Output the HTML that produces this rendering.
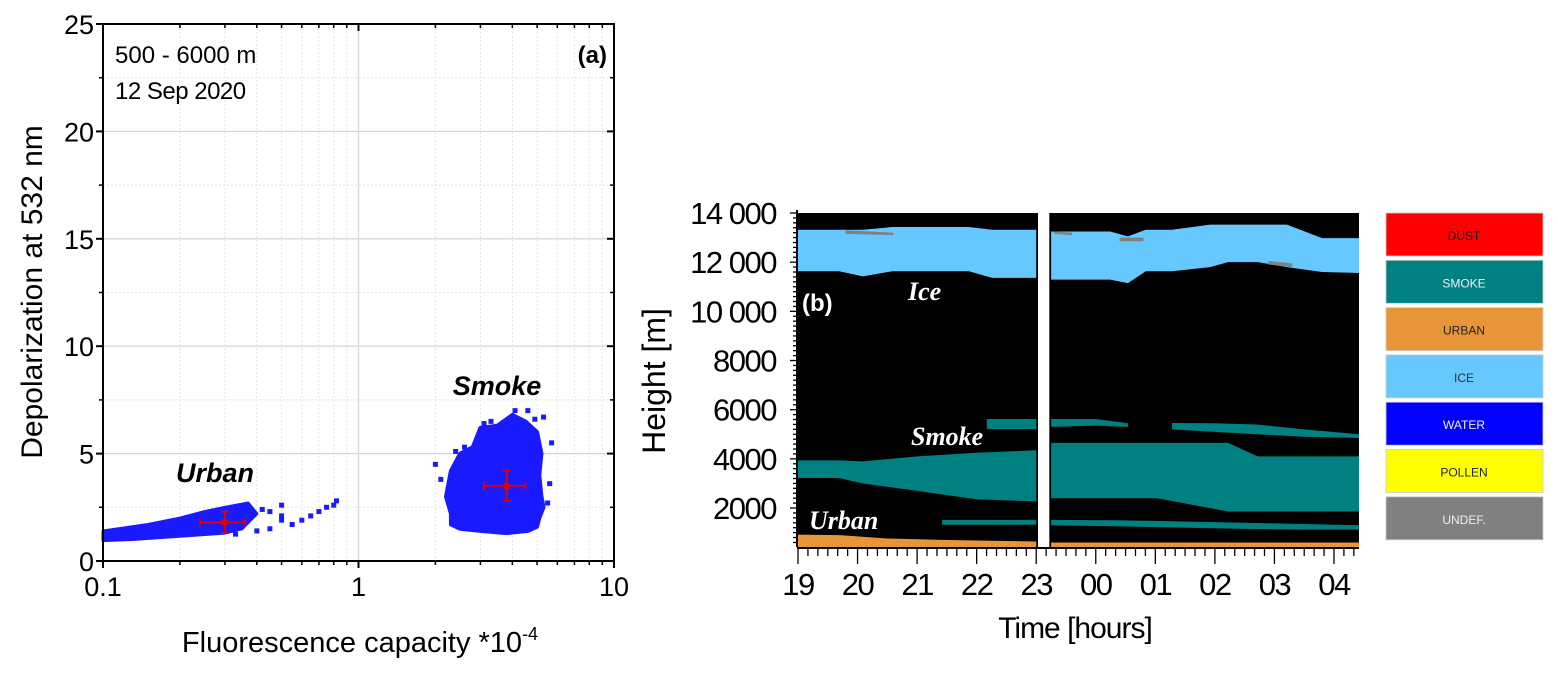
<!DOCTYPE html>
<html><head><meta charset="utf-8"><style>
html,body{margin:0;padding:0;background:#fff;}
svg{display:block;font-family:"Liberation Sans",Arial,sans-serif;}
</style></head><body>
<svg id="root" width="1558" height="673" viewBox="0 0 1558 673" xmlns="http://www.w3.org/2000/svg">
<g id="left"></g>
<g id="right"></g>
<g id="legend"></g>
</svg>
<script>
// ---------- Panel (a) data ----------
const xTicksA = [0.1, 1, 10];
const xTickLabelsA = ["0.1", "1", "10"];
const yTicksA = [0, 5, 10, 15, 20, 25];
const smokeOutlineX = [2.3,2.5,3.0,3.8,4.6,5.0,5.1,5.3,5.2,5.1,5.2,5.0,4.5,4.0,3.5,3.0,2.8,2.5,2.3,2.2,2.3];
const smokeOutlineY = [1.7,1.5,1.4,1.3,1.4,1.6,2.0,2.5,3.0,4.0,5.0,6.0,6.5,6.8,6.3,6.2,5.3,5.0,4.2,3.0,2.2];
const smokePointsX = [2.0,2.1,5.7,5.6,5.5,4.6,2.6,3.1,4.1,5.3,2.4,4.9,5.0,3.3];
const smokePointsY = [4.5,3.8,5.5,3.6,2.7,7.0,5.3,6.4,7.0,6.7,5.1,6.6,2.2,6.5];
const urbanOutlineX = [0.1,0.1,0.15,0.2,0.25,0.3,0.37,0.4,0.35,0.3,0.2,0.13];
const urbanOutlineY = [0.95,1.4,1.7,2.0,2.3,2.5,2.7,2.2,1.5,1.3,1.15,1.0];
const urbanPointsX = [0.45,0.5,0.5,0.55,0.6,0.65,0.7,0.8,0.45,0.4,0.5,0.75,0.82,0.33,0.42];
const urbanPointsY = [2.3,2.6,1.9,1.7,1.9,2.1,2.3,2.6,1.5,1.4,2.1,2.5,2.8,1.25,2.4];
const meanX = [0.3, 3.8];
const meanY = [1.8, 3.5];
const meanXLo = [0.24, 3.1];
const meanXHi = [0.36, 4.5];
const meanYLo = [1.3, 2.8];
const meanYHi = [2.3, 4.2];

// ---------- Panel (b) data ----------
const timeTicks = [19,20,21,22,23,24,25,26,27,28];
const timeTickLabels = ["19","20","21","22","23","00","01","02","03","04"];
const heightTicks = [2000,4000,6000,8000,10000,12000,14000];
const heightTickLabels = ["2000","4000","6000","8000","10 000","12 000","14 000"];
const classColors = {ice:"#66c8ff", smoke:"#008080", urban:"#e8953a", undef:"#808080"};
const layerClass = ["ice","ice","smoke","smoke","smoke","smoke","smoke","smoke","smoke","urban","urban","undef","undef","undef","undef"];
const layerTimes = [
 [19,19.69,20.09,20.58,21.87,22.26,23.0],
 [23.25,24.24,24.54,24.84,25.28,25.92,26.22,26.72,27.21,27.8,28.42],
 [22.17,23.0],
 [23.25,24.0,24.54],
 [25.28,26.0,26.7,27.5,28.42],
 [19,19.69,20.09,21.0,22.0,23.0],
 [23.25,24.0,25.03,26.22,26.72,27.21,28.42],
 [21.42,22.0,23.0],
 [23.25,24.5,25.5,26.5,27.5,28.42],
 [19,19.7,20.5,21.5,22.5,23.0],
 [23.25,28.42],
 [19.8,20.6],
 [23.3,23.6],
 [24.4,24.8],
 [26.9,27.3]
];
const layerTop = [
 [13320,13320,13320,13430,13430,13320,13320],
 [13250,13250,13050,13320,13320,13525,13525,13525,13525,12980,12980],
 [5620,5620],
 [5620,5620,5450],
 [5460,5450,5400,5200,5000],
 [3940,3940,3900,4100,4250,4350],
 [4650,4650,4650,4650,4100,4100,4100],
 [1520,1520,1520],
 [1520,1500,1450,1400,1350,1300],
 [920,900,760,700,660,640],
 [600,600],
 [13300,13200],
 [13250,13200],
 [13000,13000],
 [12050,11950]
];
const layerBot = [
 [11630,11630,11420,11630,11630,11360,11360],
 [11290,11290,11150,11630,11630,11800,12000,12000,11800,11600,11560],
 [5210,5210],
 [5300,5350,5300],
 [5200,5100,5000,4900,4850],
 [3220,3220,3000,2700,2350,2270],
 [2400,2400,2400,1860,1860,1860,1860],
 [1320,1320,1320],
 [1300,1250,1200,1150,1120,1120],
 [415,415,415,415,415,415],
 [415,415],
 [13150,13100],
 [13150,13100],
 [12850,12850],
 [11900,11800]
];
const legendLabels = ["DUST","SMOKE","URBAN","ICE","WATER","POLLEN","UNDEF."];
const legendColors = ["#ff0000","#008080","#e8953a","#66c8ff","#0000ff","#ffff00","#808080"];
const legendTextColors = ["#111","#eef","#222","#234","#eef","#222","#eee"];

const NS = "http://www.w3.org/2000/svg";
function mk(parent, tag, attrs, text){
  const e = document.createElementNS(NS, tag);
  for (const k in attrs) e.setAttribute(k, attrs[k]);
  if (text !== undefined) e.textContent = text;
  parent.appendChild(e);
  return e;
}

// ---------- Panel (a) ----------
const A = document.getElementById('left');
const aL=103, aR=614, aT=24, aB=561;
const xA = v => aL + (Math.log10(v) + 1) / 2 * (aR - aL);
const yA = v => aB - v / 25 * (aB - aT);
for (let d = 0; d < 2; d++) for (let m = 2; m <= 9; m++) {
  const v = Math.pow(10, d - 1) * m;
  const g = mk(A,'line',{x1:xA(v),x2:xA(v),y1:aT,y2:aB,stroke:'#e4e4e4','stroke-width':1,'stroke-dasharray':'2,2'});
  
  
}
for (let v = 2.5; v < 25; v += 5) {
  const g = mk(A,'line',{x1:aL,x2:aR,y1:yA(v),y2:yA(v),stroke:'#e4e4e4','stroke-width':1,'stroke-dasharray':'2,2'});
  
  
}
yTicksA.forEach(v => {
  if (v > 0 && v < 25) {
    const g = mk(A,'line',{x1:aL,x2:aR,y1:yA(v),y2:yA(v),stroke:'#d8d8d8','stroke-width':1.3});
    
    
  }
  const t = mk(A,'text',{x:aL-9,y:yA(v)+10,'text-anchor':'end','font-size':27,fill:'#000'},String(v));
  
  
  [[aL,aL-7],[aR,aR-7]].forEach(p=>{
    const tk = mk(A,'line',{x1:p[0],x2:p[1],y1:yA(v),y2:yA(v),stroke:'#000','stroke-width':2});
    
    
  });
  if (v < 25) {
    const mv = v + 2.5;
    [[aL,aL-4],[aR,aR-4]].forEach(p=>{
      const tk = mk(A,'line',{x1:p[0],x2:p[1],y1:yA(mv),y2:yA(mv),stroke:'#000','stroke-width':1.5});
      
      
    });
  }
});
{
  const g = mk(A,'line',{x1:xA(1),x2:xA(1),y1:aT,y2:aB,stroke:'#d8d8d8','stroke-width':1.3});
  
  
}
xTicksA.forEach((v,i) => {
  const t = mk(A,'text',{x:xA(v),y:aB+35,'text-anchor':'middle','font-size':27,fill:'#000'},xTickLabelsA[i]);
  
  
  [[aB,aB+7],[aT,aT+7]].forEach(p=>{
    const tk = mk(A,'line',{x1:xA(v),x2:xA(v),y1:p[0],y2:p[1],stroke:'#000','stroke-width':2});
    
    
  });
});
for (let d = 0; d < 2; d++) for (let m = 2; m <= 9; m++) {
  const v = Math.pow(10, d - 1) * m;
  [[aB,aB+4],[aT,aT+4]].forEach(p=>{
    const tk = mk(A,'line',{x1:xA(v),x2:xA(v),y1:p[0],y2:p[1],stroke:'#000','stroke-width':1.5});
    
    
  });
}
function outlinePts(xs, ys){ return xs.map((x,i)=>xA(x)+','+yA(ys[i])).join(' '); }
{
  const p = mk(A,'polygon',{points:outlinePts(smokeOutlineX,smokeOutlineY),fill:'#1a1aff',stroke:'#1a1aff','stroke-width':4,'stroke-linejoin':'round'});
  
  
  const q = mk(A,'polygon',{points:outlinePts(urbanOutlineX,urbanOutlineY),fill:'#1a1aff',stroke:'#1a1aff','stroke-width':3,'stroke-linejoin':'round'});
  
  
}
smokePointsX.forEach((x,i)=>{
  const r = mk(A,'rect',{x:xA(x)-2.5,y:yA(smokePointsY[i])-2.5,width:5,height:5,fill:'#1a1aff'});
  
  
});
urbanPointsX.forEach((x,i)=>{
  const r = mk(A,'rect',{x:xA(x)-2.5,y:yA(urbanPointsY[i])-2.5,width:5,height:5,fill:'#1a1aff'});
  
  
});
meanX.forEach((x,i)=>{
  const g = mk(A,'g',{stroke:'#e00000','stroke-width':1.8,fill:'none'});
  
  
  const cx=xA(x), cy=yA(meanY[i]);
  const x1=xA(meanXLo[i]), x2=xA(meanXHi[i]), y1=yA(meanYLo[i]), y2=yA(meanYHi[i]);
  mk(g,'line',{x1:x1,x2:x2,y1:cy,y2:cy});
  mk(g,'line',{x1:cx,x2:cx,y1:y1,y2:y2});
  mk(g,'line',{x1:x1,x2:x1,y1:cy-4,y2:cy+4});
  mk(g,'line',{x1:x2,x2:x2,y1:cy-4,y2:cy+4});
  mk(g,'line',{x1:cx-4,x2:cx+4,y1:y1,y2:y1});
  mk(g,'line',{x1:cx-4,x2:cx+4,y1:y2,y2:y2});
  mk(g,'rect',{x:cx-3,y:cy-3,width:6,height:6,fill:'#e00000',stroke:'none'});
});
{
  const f = mk(A,'rect',{x:aL,y:aT,width:aR-aL,height:aB-aT,fill:'none',stroke:'#000','stroke-width':2});
  
  
}
</script>
<script>
const Lroot = document.getElementById('left');
function txt(parent, attrs, s, name){
  const t = mk(parent,'text',attrs,s);
  
  
  return t;
}
txt(Lroot,{x:115,y:63,'font-size':24},'500 - 6000 m','altitude-range-label');
txt(Lroot,{x:115,y:99,'font-size':24,'letter-spacing':'-0.5'},'12 Sep 2020','date-label');
txt(Lroot,{x:607,y:63,'font-size':24,'font-weight':'bold','text-anchor':'end'},'(a)','panel-a-label');
txt(Lroot,{x:497,y:395,'font-size':27,'font-weight':'bold','font-style':'italic','text-anchor':'middle'},'Smoke','smoke-annotation');
txt(Lroot,{x:215,y:482,'font-size':27,'font-weight':'bold','font-style':'italic','text-anchor':'middle'},'Urban','urban-annotation');
txt(Lroot,{x:0,y:0,'font-size':30,'text-anchor':'middle',transform:'translate(42,292) rotate(-90)'},'Depolarization at 532 nm','y-axis-title-a');
{
  const t = txt(Lroot,{x:360,y:652,'font-size':29,'text-anchor':'middle'},'Fluorescence capacity *10','x-axis-title-a');
  mk(t,'tspan',{dy:-12,'font-size':18},'-4');
}

// ---------- Panel (b) ----------
const B = document.getElementById('right');
const bL=798, bR=1359, bT=213, bB=547;
const tMin=19, tMax=28.42, hMin=415, hMax=14000;
const xB = t => bL + (t - tMin) / (tMax - tMin) * (bR - bL);
const yB = h => bB - (h - hMin) / (hMax - hMin) * (bB - bT);
{
  const bg = mk(B,'rect',{x:bL,y:bT,width:bR-bL,height:bB-bT,fill:'#000'});
  
  
}
layerClass.forEach((c,i)=>{
  const ts = layerTimes[i];
  const pts = ts.map((t,j)=>xB(t)+','+yB(layerTop[i][j]));
  for (let j = ts.length-1; j >= 0; j--) pts.push(xB(ts[j])+','+yB(layerBot[i][j]));
  const p = mk(B,'polygon',{points:pts.join(' '),fill:classColors[c]});
  
  
});
{
  const gap = mk(B,'rect',{x:xB(23.03),y:bT,width:xB(23.22)-xB(23.03),height:bB-bT+1,fill:'#fff'});
  
  
}
{
  const ax = mk(B,'line',{x1:bL-1,x2:bL-1,y1:bT-3,y2:bB,stroke:'#000','stroke-width':2});
  
  
  const bx = mk(B,'line',{x1:bL-1,x2:bR,y1:bB+1,y2:bB+1,stroke:'#000','stroke-width':2});
  
  
}
for (let h = 600; h <= 14000; h += 200) {
  const major = h % 2000 === 0;
  const tk = mk(B,'line',{x1:bL-1,x2:bL-(major?8:5),y1:yB(h),y2:yB(h),stroke:'#000','stroke-width':1.3});
  
  
}
heightTicks.forEach((h,i)=>{
  txt(B,{x:bL-22,y:yB(h)+11,'font-size':31,'text-anchor':'end','letter-spacing':'-1.5'},heightTickLabels[i],'y-tick-label-b');
});
for (let t = 19; t <= 28.4; t += 1/6) {
  const major = Math.abs(t - Math.round(t)) < 0.01;
  const tk = mk(B,'line',{x1:xB(t),x2:xB(t),y1:bB+1,y2:bB+(major?17:9),stroke:'#000','stroke-width':1.3});
  
  
}
timeTicks.forEach((t,i)=>{
  txt(B,{x:xB(t),y:595,'font-size':31,'text-anchor':'middle','letter-spacing':'-1.5'},timeTickLabels[i],'x-tick-label-b');
});
txt(B,{x:1075,y:638,'font-size':30,'text-anchor':'middle','letter-spacing':'-1'},'Time [hours]','x-axis-title-b');
txt(B,{x:0,y:0,'font-size':32,'text-anchor':'middle',transform:'translate(665,381) rotate(-90)'},'Height [m]','y-axis-title-b');
txt(B,{x:802,y:311,'font-size':24,'font-weight':'bold',fill:'#fff'},'(b)','panel-b-label');
txt(B,{x:908,y:300,'font-size':26,'font-weight':'bold','font-style':'italic',fill:'#fff','font-family':'Liberation Serif, serif'},'Ice','ice-annotation');
txt(B,{x:911,y:445,'font-size':26,'font-weight':'bold','font-style':'italic',fill:'#fff','font-family':'Liberation Serif, serif'},'Smoke','smoke-annotation-b');
txt(B,{x:809,y:529,'font-size':26,'font-weight':'bold','font-style':'italic',fill:'#fff','font-family':'Liberation Serif, serif'},'Urban','urban-annotation-b');

const G = document.getElementById('legend');
legendLabels.forEach((lab,i)=>{
  const y = 213 + i*47.3;
  const r = mk(G,'rect',{x:1386,y:y,width:157,height:43,fill:legendColors[i],stroke:'#ccc','stroke-width':0.8});
  
  
  txt(G,{x:1464,y:y+27,'font-size':12,'text-anchor':'middle',fill:legendTextColors[i]},lab,'legend-label');
});
</script>
</body></html>
